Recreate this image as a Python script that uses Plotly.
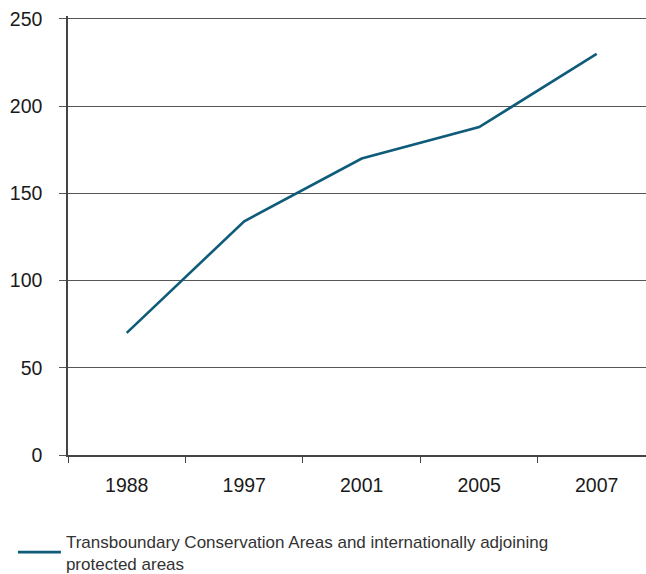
import plotly.graph_objects as go

years = ["1988", "1997", "2001", "2005", "2007"]
values = [70, 134, 170, 188, 230]
series_name = "Transboundary Conservation Areas and internationally adjoining<br>protected areas"
y_ticks = [0, 50, 100, 150, 200, 250]

W, H = 646, 574
L, R, T, B = 67.5, 0, 16, 119

fig = go.Figure()
fig.add_trace(go.Scatter(
    x=years, y=values, mode="lines", name=series_name,
    line=dict(color="#0f5b7a", width=2.6),
))

fig.update_layout(
    width=W, height=H,
    margin=dict(l=L, r=R, t=T, b=B, autoexpand=False),
    paper_bgcolor="white", plot_bgcolor="white",
    font=dict(family="Liberation Sans, Arial, sans-serif", color="#1a1a1a", size=19.5),
    showlegend=True,
    legend=dict(
        orientation="v", xref="container", yref="container",
        x=0.02, xanchor="left", y=0.088, yanchor="top",
        font=dict(size=17, color="#333333"), bgcolor="rgba(0,0,0,0)",
        itemwidth=43, tracegroupgap=0,
    ),
)
fig.update_xaxes(
    type="category", range=[-0.5, 4.42],
    showline=True, linecolor="#444444", linewidth=1.5,
    showgrid=False, zeroline=False,
    ticks="outside", tickson="boundaries", ticklen=6, tickcolor="#444444", tickwidth=1.2,
    ticklabelstandoff=12,
    tickfont=dict(size=19.5, color="#1a1a1a"),
)
fig.update_yaxes(
    range=[0, 251.7], tickvals=y_ticks,
    showline=True, linecolor="#444444", linewidth=1.5,
    showgrid=True, gridcolor="#555555", gridwidth=1.2,
    zeroline=False,
    ticks="outside", ticklen=7, tickcolor="#555555", tickwidth=1.2,
    ticklabelstandoff=13,
    tickfont=dict(size=19.5, color="#1a1a1a"),
)

fig.write_html(
    "out.html",
    config={"displayModeBar": False},
    post_script="document.body.style.margin='0';document.body.style.overflow='hidden';",
)
